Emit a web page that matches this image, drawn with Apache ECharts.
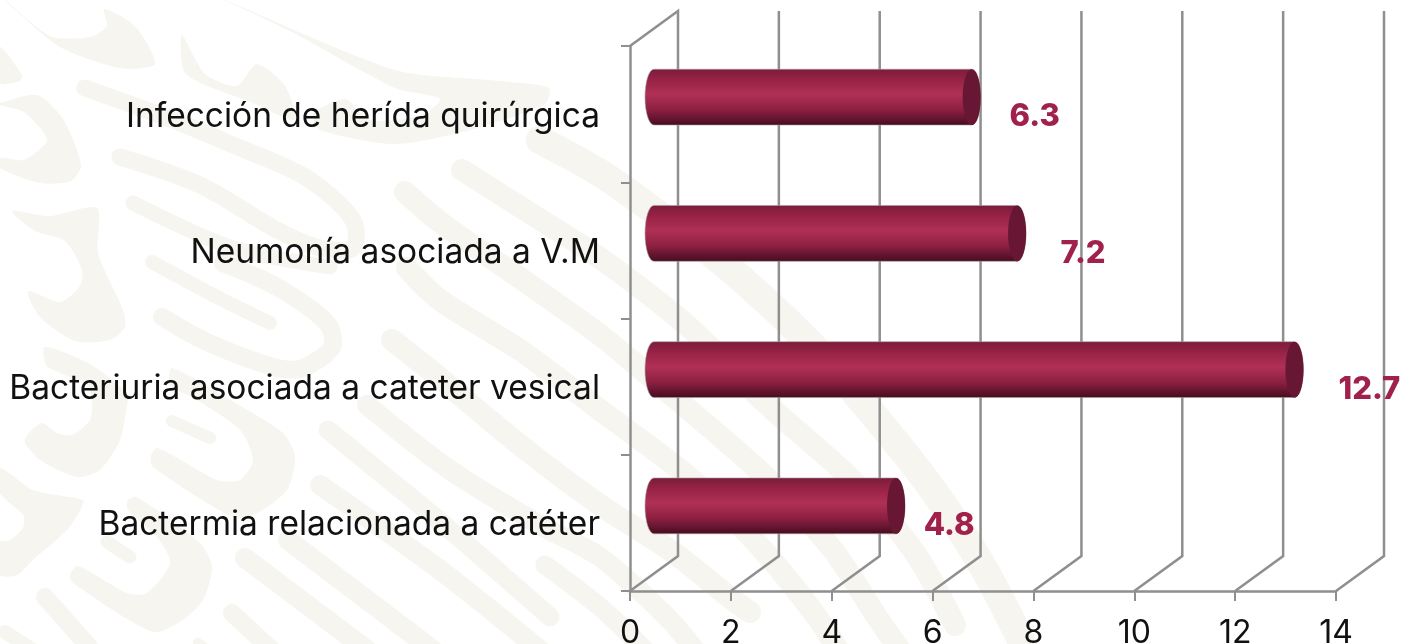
<!DOCTYPE html>
<html>
<head>
<meta charset="utf-8">
<style>html,body{margin:0;padding:0;background:#fff;overflow:hidden}#chart{width:1401px;height:644px}</style>
<script src="https://cdn.jsdelivr.net/npm/echarts@6/dist/echarts.min.js"></script>
</head>
<body>
<div id="chart"></div>
<script>
var categories = ["Bactermia relacionada a catéter", "Bacteriuria asociada a cateter vesical", "Neumonía asociada a V.M", "Infección de herída quirúrgica"];
var values = [4.8, 12.7, 7.2, 6.3];
var xTicks = [0, 2, 4, 6, 8, 10, 12, 14];

// watermark behind the chart, traced by eye
var wmStripes = [
  [17, [[85,88],[173,120],[233,145],[307,178],[353,220],[353,248],[320,248],[277,230],[200,185],[120,157]]],
  [15, [[133,203],[230,247],[330,267]]],
  [14, [[152,262],[217,297],[270,323]]],
  [18, [[223,263],[277,287],[327,323],[332,347],[303,368],[277,368],[207,342],[162,317]]],
  [12, [[172,421],[210,438]]],
  [13, [[107,542],[130,557]]],
  [18, [[45,597],[83,640],[95,655]]],
  [14, [[5,632],[33,650]]],
  [10, [[198,643],[215,655]]],
  // long feathers, top one first
  [28, [[540,140],[600,173],[650,208],[723,263],[807,340],[867,407],[933,490],[983,567],[1023,644]]],
  [22, [[462,170],[533,215],[600,258],[690,328],[760,398],[850,478],[913,550],[955,625]]],
  [22, [[405,192],[440,222],[530,285],[600,335],[675,398],[767,478],[833,550],[877,617],[900,650]]],
  [22, [[407,268],[440,300],[520,350],[600,410],[690,478],[763,550],[817,617],[838,650]]],
  [22, [[392,340],[430,370],[520,445],[600,505],[670,550],[733,600],[750,612]]],
  [20, [[367,405],[450,470],[540,525],[600,557],[667,617],[695,650]]],
  [19, [[328,430],[450,530],[550,617]]],
  [19, [[545,565],[600,607],[645,650]]],
  [20, [[320,485],[440,570],[540,650]]],
  [20, [[288,540],[433,650]]],
  [20, [[245,558],[367,650]]],
  [18, [[232,613],[272,650]]]
];
var wmShapes = [
  [[0,-5],[50,36],[90,37],[107,26],[104,9],[135,26],[155,64],[120,68],[60,47],[10,5]],
  [[0,47],[22,75],[20,81],[0,83]],
  [[0,103],[37,95],[63,119],[81,165],[71,181],[40,183],[0,168],[0,158],[24,160],[47,140],[24,112],[0,105]],
  [[12,211],[50,216],[97,208],[98,253],[123,310],[125,327],[110,340],[75,341],[40,317],[28,291],[60,302],[80,286],[82,270],[65,241],[35,231]],
  [[45,347],[90,364],[130,395],[128,400],[120,440],[100,470],[77,477],[40,460],[25,443],[27,435],[42,423],[57,433],[72,435],[90,420],[92,400],[87,385],[47,366]],
  [[225,0],[395,70],[500,81],[549,88],[545,104],[470,130],[395,144],[320,130],[313,114],[345,99],[370,120],[420,116],[440,99],[395,88],[290,31]],
  [[182,35],[205,74],[237,86],[257,64],[285,86],[295,120],[253,103],[186,74]],
  [[172,368],[230,400],[283,433],[295,457],[287,490],[257,513],[233,517],[153,467],[151,455],[158,448],[217,480],[240,480],[253,460],[240,430],[197,400],[170,385]],
  [[0,468],[33,490],[83,500],[82,507],[67,530],[33,560],[17,575],[0,575],[0,542],[10,540],[23,528],[23,515],[0,493]],
  [[128,500],[137,497],[200,543],[212,567],[203,600],[183,620],[153,632],[73,583],[70,575],[78,566],[127,593],[147,593],[170,563],[157,537],[128,510]]
];
var wmColor = "#f7f5ef";
var lineColor = "#8f8f8f";
var depthX = 48, depthY = 35;   // back wall offset

var graphics = [];
wmShapes.forEach(function (s) {
  graphics.push({ type: "polygon", silent: true, z: -10, shape: { points: s, smooth: 0.25 }, style: { fill: wmColor } });
});
wmStripes.forEach(function (s) {
  graphics.push({ type: "polyline", silent: true, z: -10, shape: { points: s[1], smooth: 0.3 }, style: { stroke: wmColor, lineWidth: s[0], lineCap: "round", lineJoin: "round", fill: null } });
});

var labelShift = [77, 99, 90, 87];

var chart = echarts.init(document.getElementById("chart"), null, { renderer: "canvas" });
chart.setOption({
  animation: false,
  backgroundColor: "#fff",
  graphic: graphics,
  grid: { left: 630, right: 65, top: 46, bottom: 53, containLabel: false, outerBoundsMode: "none" },
  xAxis: {
    type: "value", min: 0, max: 14, interval: 2,
    axisLine: { show: true, lineStyle: { color: lineColor, width: 2.5 } },
    axisTick: { show: true, length: 10, lineStyle: { color: lineColor, width: 2 } },
    splitLine: { show: false },
    axisLabel: { fontFamily: "Inter", fontSize: 32, color: "#111", margin: 26, showMinLabel: true, showMaxLabel: true, hideOverlap: false }
  },
  yAxis: {
    type: "category", data: categories,
    axisLine: { show: true, onZero: false, lineStyle: { color: lineColor, width: 2.5 } },
    axisTick: { show: true, length: 9, alignWithLabel: false, lineStyle: { color: lineColor, width: 2 } },
    axisLabel: { fontFamily: "Inter", fontSize: 33.5, color: "#111", margin: 30, verticalAlign: "top", lineHeight: 5 }
  },
  series: [
    {
      // back wall and floor lines
      type: "custom", coordinateSystem: "cartesian2d", silent: true, z: 1, clip: false,
      data: xTicks.map(function (t) { return [t, 0]; }),
      encode: { x: 0 },
      renderItem: function (params, api) {
        var x = api.coord([api.value(0), 0])[0];
        var rect = params.coordSys;
        var bottom = rect.y + rect.height, top = rect.y;
        var pts = [[x, bottom], [x + depthX, bottom - depthY], [x + depthX, top - depthY]];
        if (api.value(0) === 0) pts.push([x, top]);
        return { type: "polyline", shape: { points: pts }, style: { stroke: lineColor, lineWidth: 2.5, fill: null } };
      }
    },
    {
      // cylinders
      type: "custom", coordinateSystem: "cartesian2d", silent: true, z: 2, clip: false,
      data: values.map(function (v, i) { return [v, i]; }),
      encode: { x: 0, y: 1 },
      renderItem: function (params, api) {
        var start = api.coord([0, api.value(1)]);
        var end = api.coord([api.value(0), api.value(1)]);
        var h = api.size([0, 1])[1] * 0.41;
        var rx = 9, ry = h / 2;
        var cy = end[1] - 17, x0 = start[0] + 24, x1 = end[0] + 24;
        var path = "M" + x0 + " " + (cy - ry) + " L" + x1 + " " + (cy - ry) +
          " A" + rx + " " + ry + " 0 0 1 " + x1 + " " + (cy + ry) +
          " L" + x0 + " " + (cy + ry) +
          " A" + rx + " " + ry + " 0 0 1 " + x0 + " " + (cy - ry) + " Z";
        return {
          type: "group",
          children: [
            {
              type: "path", shape: { pathData: path, x: x0 - rx, y: cy - ry, width: x1 - x0 + 2 * rx, height: h, layout: "cover" },
              style: {
                fill: new echarts.graphic.LinearGradient(0, 0, 0, 1, [
                  { offset: 0, color: "#7a1c3b" },
                  { offset: 0.2, color: "#982346" },
                  { offset: 0.45, color: "#b03056" },
                  { offset: 0.72, color: "#8d2042" },
                  { offset: 1, color: "#450c20" }
                ]),
                stroke: "#a9a0a3", lineWidth: 0.6
              }
            },
            { type: "ellipse", shape: { cx: x1, cy: cy, rx: rx, ry: ry }, style: { fill: "#671733" } },
            {
              type: "text",
              style: {
                text: String(api.value(0)), x: end[0] + labelShift[api.value(1)], y: end[1] + 3,
                align: "center", verticalAlign: "middle",
                font: "800 31px Inter", fill: "#a0214c"
              }
            }
          ]
        };
      }
    }
  ]
});
</script>
</body>
</html>
